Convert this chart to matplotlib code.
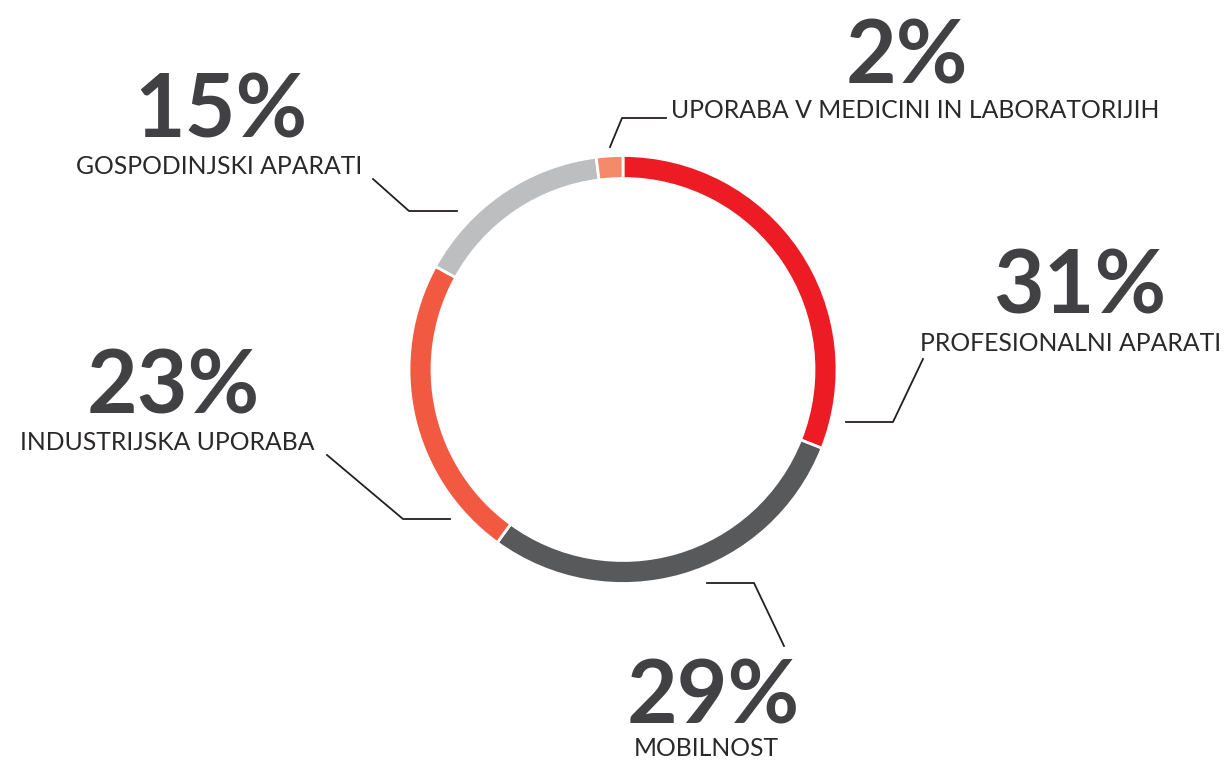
import matplotlib.pyplot as plt

labels = ["PROFESIONALNI APARATI", "MOBILNOST", "INDUSTRIJSKA UPORABA",
          "GOSPODINJSKI APARATI", "UPORABA V MEDICINI IN LABORATORIJIH"]
values = [31, 29, 23, 15, 2]
colors = ["#ED1C24", "#58595B", "#F15A40", "#BCBEC0", "#F58A6A"]

# layout in pixel coords (y down): number x, number baseline, label x, label baseline
text_pos = [(1080, 313, 1071, 351), (713, 724, 706, 756), (173, 414, 167, 450),
            (221, 137, 219, 174), (907, 84, 915, 118)]
leaders = [
    [(846, 422), (893, 422), (923, 359)],
    [(707, 583), (754, 583), (784, 646)],
    [(450, 519), (403, 519), (327, 455)],
    [(457, 211), (409, 211), (373, 179)],
    [(610, 147), (622, 118), (666, 118)],
]

fig = plt.figure(figsize=(12.26, 7.6), dpi=100)
ax = fig.add_axes([0, 0, 1, 1])

# y axis is inverted below, so counterclock=True from -90 runs clockwise from the top
ax.pie(values, colors=colors, startangle=-90, counterclock=True,
       center=(623, 369.5), radius=214,
       wedgeprops=dict(width=23, edgecolor="white", linewidth=2))

for (xn, yn, xl, yl), lab, v, pts in zip(text_pos, labels, values, leaders):
    ax.text(xn, yn, f"{v}%", ha="center", va="baseline", fontsize=63,
            family="Lato", fontweight="bold", color="#414042")
    ax.text(xl, yl, lab, ha="center", va="baseline", fontsize=17.8,
            family="Lato", fontweight="normal", color="#2b2829")
    xs, ys = zip(*pts)
    ax.plot(xs, ys, color="#231F20", lw=1.3)

ax.set_xlim(0, 1226)
ax.set_ylim(760, 0)
ax.set_aspect("equal")
ax.axis("off")
fig.savefig("out.png", dpi=100)
